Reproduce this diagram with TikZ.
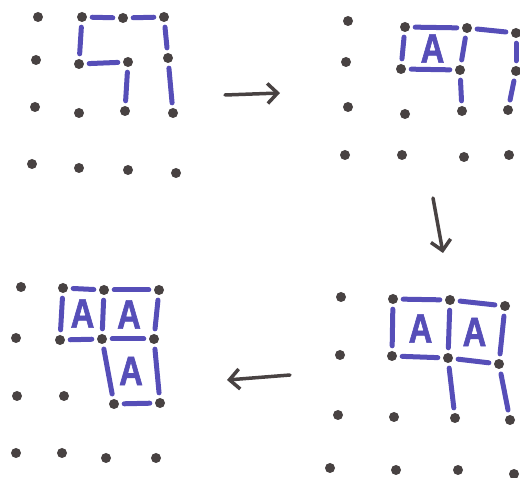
\documentclass[tikz,border=0pt]{standalone}
\usepackage{fontspec}
\newfontfamily\letterfont[FakeStretch=0.8, FakeBold=1.5]{Liberation Sans}
\definecolor{penblue}{RGB}{86, 78, 184}
\definecolor{inkgray}{RGB}{72, 66, 66}
\usetikzlibrary{arrows.meta, calc}

\begin{document}
\begin{tikzpicture}[
    x=1pt, y=-1pt,
    dot/.style={circle, fill=inkgray, inner sep=0pt, minimum size=10pt},
    penline/.style={penblue, line width=5pt, line cap=round,
                    shorten <=5pt, shorten >=5pt},
    letter/.style={penblue, inner sep=0pt,
                   font=\letterfont\bfseries\fontsize{41}{41}\selectfont},
    arr/.style={-{Straight Barb[length=10pt, width=20pt]}, inkgray,
                line width=3.5pt, line cap=round}
]
    \useasboundingbox (0,0) rectangle (520,478);

    % dots of the four boards
    \foreach \n/\x/\y in {00/38/17, 10/82/17, 20/123/18, 30/164/17,
                          01/36/60, 11/79/64, 21/128/62, 31/168/58,
                          02/35/107, 12/79/113, 22/125/111, 32/173/113,
                          03/32/164, 13/79/168, 23/128/170, 33/176/173}
        \node[dot] (a\n) at (\x,\y) {};
    \foreach \n/\x/\y in {00/348/21, 10/405/27, 20/467/28, 30/516/33,
                          01/346/62, 11/401/69, 21/460/70, 31/516/71,
                          02/348/107, 12/405/114, 22/462/111, 32/508/110,
                          03/345/155, 13/402/155, 23/464/157, 33/509/155}
        \node[dot] (b\n) at (\x,\y) {};
    \foreach \n/\x/\y in {00/21/287, 10/63/288, 20/104/290, 30/159/290,
                          01/16/338, 11/60/340, 21/102/339, 31/154/339,
                          02/17/396, 12/64/396, 22/114/404, 32/160/403,
                          03/16/453, 13/62/453, 23/106/458, 33/156/458}
        \node[dot] (c\n) at (\x,\y) {};
    \foreach \n/\x/\y in {00/341/297, 10/393/299, 20/450/300, 30/505/306,
                          01/340/355, 11/392/356, 21/448/358, 31/499/364,
                          02/338/415, 12/394/417, 22/455/418, 32/510/420,
                          03/330/468, 13/396/470, 23/458/470, 33/514/474}
        \node[dot] (d\n) at (\x,\y) {};

    % drawn lines
    \foreach \s/\t in {10/20, 20/30, 10/11, 30/31, 11/21, 21/22, 31/32}
        \draw[penline] (a\s) -- (a\t);
    \foreach \s/\t in {10/20, 20/30, 10/11, 20/21, 30/31, 11/21, 21/22, 31/32}
        \draw[penline] (b\s) -- (b\t);
    \foreach \s/\t in {10/20, 20/30, 10/11, 20/21, 30/31, 11/21, 21/31,
                       21/22, 31/32, 22/32}
        \draw[penline] (c\s) -- (c\t);
    \foreach \s/\t in {10/20, 20/30, 10/11, 20/21, 30/31, 11/21, 21/31,
                       21/22, 31/32}
        \draw[penline] (d\s) -- (d\t);

    % claimed boxes
    \node[letter] (bA) at ($(b10)!.5!(b21)$) {A};
    \node[letter] (cA) at ($(c10)!.5!(c21)$) {A};
    \node[letter] (cB) at ($(c20)!.5!(c31)$) {A};
    \node[letter] (cC) at ($(c21)!.5!(c32)$) {A};
    \node[letter] (dA) at ($(d10)!.5!(d21)$) {A};
    \node[letter] (dB) at ($(d20)!.5!(d31)$) {A};

    % moves
    \coordinate (r1) at (225,95);
    \coordinate (r2) at (280,93);
    \coordinate (v1) at (433,198);
    \coordinate (v2) at (443,253);
    \coordinate (l1) at (290,375);
    \coordinate (l2) at (227,380);
    \draw[arr] (r1) -- (r2);
    \draw[arr] (v1) -- (v2);
    \draw[arr] (l1) -- (l2);
\end{tikzpicture}
\end{document}
